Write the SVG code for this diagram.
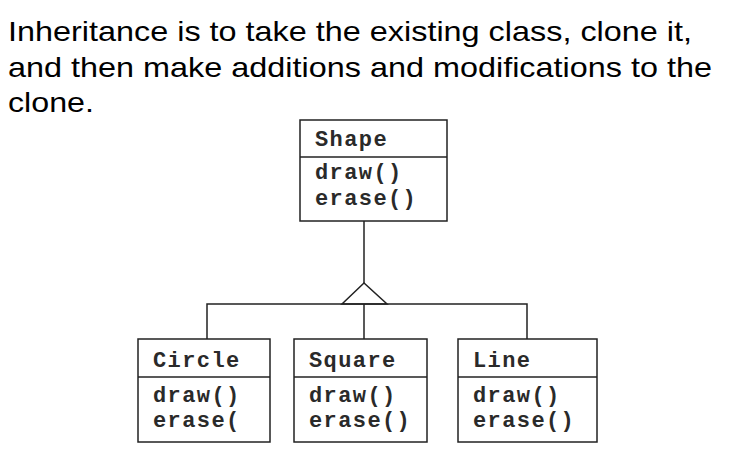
<svg xmlns="http://www.w3.org/2000/svg" width="729" height="458" viewBox="0 0 729 458">
<style>
.h{font-family:"Liberation Sans",Arial,sans-serif;font-size:28px;fill:#000}
.box{fill:#fff;stroke:#222;stroke-width:1.5}
.t{font-family:"Liberation Mono","Courier New",monospace;font-weight:bold;font-size:22px;letter-spacing:1.4px;fill:#2a2a2a}
.c{fill:none;stroke:#222;stroke-width:1.5}
</style>
<rect width="729" height="458" fill="#fff"/>
<g id="heading">
<text class="h" x="8" y="41" textLength="684" lengthAdjust="spacingAndGlyphs">Inheritance is to take the existing class, clone it,</text>
<text class="h" x="8" y="77" textLength="704" lengthAdjust="spacingAndGlyphs">and then make additions and modifications to the</text>
<text class="h" x="8" y="112" textLength="86" lengthAdjust="spacingAndGlyphs">clone.</text>
</g>
<g id="connectors">
<line class="c" x1="364" y1="221" x2="364" y2="283"/>
<polygon class="c" points="364,283 342,304 387,304"/>
<polyline class="c" points="207,339 207,304 527,304 527,339"/>
<line class="c" x1="364" y1="304" x2="364" y2="339"/>
</g>
<g id="shape">
<rect class="box" x="300" y="120" width="147" height="101"/>
<line class="c" x1="300" y1="157" x2="447" y2="157"/>
<text class="t" x="315" y="146">Shape</text>
<text class="t" x="315" y="179">draw()</text>
<text class="t" x="315" y="205">erase()</text>
</g>
<g id="circle">
<rect class="box" x="138" y="339" width="132" height="103"/>
<line class="c" x1="138" y1="377" x2="270" y2="377"/>
<text class="t" x="153" y="367">Circle</text>
<text class="t" x="153" y="402">draw()</text>
<text class="t" x="153" y="427">erase(</text>
</g>
<g id="square">
<rect class="box" x="294" y="339" width="133" height="103"/>
<line class="c" x1="294" y1="377" x2="427" y2="377"/>
<text class="t" x="309" y="367">Square</text>
<text class="t" x="309" y="402">draw()</text>
<text class="t" x="309" y="427">erase()</text>
</g>
<g id="line">
<rect class="box" x="458" y="339" width="139" height="103"/>
<line class="c" x1="458" y1="377" x2="597" y2="377"/>
<text class="t" x="473" y="367">Line</text>
<text class="t" x="473" y="402">draw()</text>
<text class="t" x="473" y="427">erase()</text>
</g>
</svg>
